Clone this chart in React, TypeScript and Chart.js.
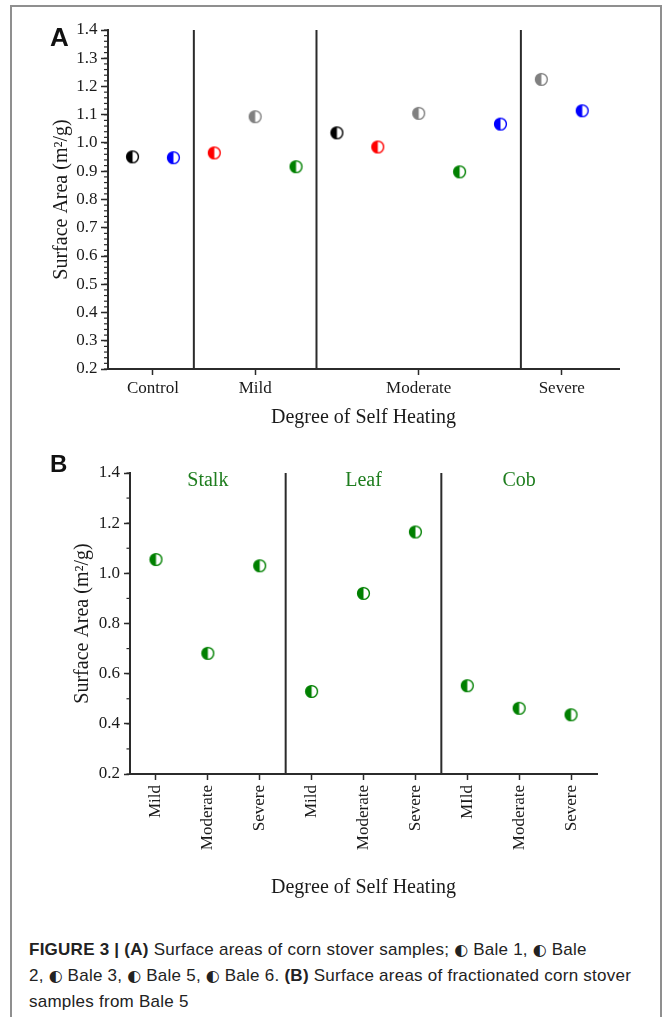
import React, { useEffect, useRef } from 'react';
import { Chart, registerables } from 'chart.js';

Chart.register(...registerables);

// ---------------- Panel A data ----------------
// One slot per sample, left to right along the x axis
const groupA = ['Control', 'Control', 'Mild', 'Mild', 'Mild', 'Moderate', 'Moderate', 'Moderate', 'Moderate', 'Moderate', 'Severe', 'Severe'];
const baleA = [1, 6, 2, 3, 5, 1, 2, 3, 5, 6, 3, 6];
const surfaceA = [0.951, 0.948, 0.965, 1.093, 0.916, 1.036, 0.986, 1.105, 0.898, 1.067, 1.225, 1.114];

const bales = [1, 2, 3, 5, 6];
const baleColors = ['#000000', '#ff0000', '#808080', '#008000', '#0000ff'];

const yMinA = 0.2;
const yMaxA = 1.4;
const yStepA = 0.1;
const yMinorA = 0.02;

// ---------------- Panel B data ----------------
const fractionB = ['Stalk', 'Stalk', 'Stalk', 'Leaf', 'Leaf', 'Leaf', 'Cob', 'Cob', 'Cob'];
const degreeB = ['Mild', 'Moderate', 'Severe', 'Mild', 'Moderate', 'Severe', 'MIld', 'Moderate', 'Severe'];
const surfaceB = [1.055, 0.681, 1.03, 0.529, 0.92, 1.165, 0.552, 0.462, 0.436];
const colorB = '#008000';
const sectionColorB = '#1e7d1e';

const yMinB = 0.2;
const yMaxB = 1.4;
const yStepB = 0.2;
const yMinorB = 0.1;

const yTitle = 'Surface Area (m\u00B2/g)';
const xTitle = 'Degree of Self Heating';

// ---------------- helpers ----------------
const SERIF = "'Liberation Serif', 'Times New Roman', serif";
const SANS = "'Liberation Sans', Arial, sans-serif";
const AXIS = '#2b2b2b';
const TEXT = '#1a1a1a';

type Group = { name: string; start: number; end: number };
function contiguousGroups(arr: string[]): Group[] {
  const out: Group[] = [];
  arr.forEach((name, i) => {
    const last = out[out.length - 1];
    if (last && last.name === name) last.end = i + 1;
    else out.push({ name, start: i + 1, end: i + 1 });
  });
  return out;
}

function halfMarker(color: string): HTMLCanvasElement {
  const c = document.createElement('canvas');
  c.width = 15;
  c.height = 15;
  const g = c.getContext('2d')!;
  const cx = 7.5, cy = 7.5, r = 5.9;
  g.beginPath();
  g.arc(cx, cy, r, 0, Math.PI * 2);
  g.fillStyle = '#ffffff';
  g.fill();
  g.beginPath();
  g.arc(cx, cy, r, Math.PI / 2, Math.PI * 1.5);
  g.closePath();
  g.fillStyle = color;
  g.fill();
  g.beginPath();
  g.arc(cx, cy, r, 0, Math.PI * 2);
  g.lineWidth = 1.4;
  g.strokeStyle = color;
  g.stroke();
  return c;
}

const decorPlugin = {
  id: 'decor',
  afterDraw(chart: any, _args: any, opts: any) {
    const { ctx, chartArea, scales } = chart;
    const x = scales.x;
    const y = scales.y;
    ctx.save();
    ctx.strokeStyle = AXIS;
    // minor ticks on y axis
    ctx.lineWidth = 1.2;
    const n = Math.round((y.max - y.min) / opts.minorStep);
    for (let i = 0; i <= n; i++) {
      const v = y.min + i * opts.minorStep;
      const py = y.getPixelForValue(v);
      ctx.beginPath();
      ctx.moveTo(chartArea.left - opts.minorLen, py);
      ctx.lineTo(chartArea.left, py);
      ctx.stroke();
    }
    // group separators
    ctx.lineWidth = 2;
    for (const s of opts.separators as number[]) {
      const px = x.getPixelForValue(s);
      ctx.beginPath();
      ctx.moveTo(px, chartArea.top);
      ctx.lineTo(px, chartArea.bottom);
      ctx.stroke();
    }
    // section labels
    if (opts.sections) {
      ctx.fillStyle = opts.sectionColor;
      ctx.font = `20px ${SERIF}`;
      ctx.textAlign = 'center';
      ctx.textBaseline = 'middle';
      for (const sec of opts.sections as { text: string; center: number }[]) {
        ctx.fillText(sec.text, x.getPixelForValue(sec.center), chartArea.top + 8);
      }
    }
    ctx.restore();
  },
};

function configA(): any {
  const groups = contiguousGroups(groupA);
  const centers = groups.map((g) => (g.start + g.end) / 2);
  const names = groups.map((g) => g.name);
  const separators = groups.slice(0, -1).map((g) => g.end + 0.5);
  const datasets = bales.map((b, bi) => ({
    label: `Bale ${b}`,
    data: surfaceA
      .map((v, i) => ({ x: i + 1, y: v, b: baleA[i] }))
      .filter((p) => p.b === b)
      .map((p) => ({ x: p.x, y: p.y })),
    pointStyle: halfMarker(baleColors[bi]),
    backgroundColor: baleColors[bi],
    borderColor: baleColors[bi],
  }));
  return {
    type: 'scatter',
    data: { datasets },
    plugins: [decorPlugin],
    options: {
      responsive: false,
      devicePixelRatio: 1,
      animation: false,
      events: [],
      layout: { padding: { left: 40, right: 45, top: 30, bottom: 10 } },
      plugins: {
        legend: { display: false },
        tooltip: { enabled: false },
        decor: { minorStep: yMinorA, minorLen: 4, separators },
      },
      scales: {
        x: {
          type: 'linear',
          min: 0.4,
          max: 12.9,
          afterBuildTicks: (scale: any) => {
            scale.ticks = centers.map((v) => ({ value: v }));
          },
          afterFit: (scale: any) => {
            scale.height = 61;
          },
          ticks: {
            autoSkip: false,
            maxRotation: 0,
            minRotation: 0,
            padding: 3,
            color: TEXT,
            font: { family: SERIF, size: 17 },
            callback: (_v: any, i: number) => names[i],
          },
          grid: { display: true, drawOnChartArea: false, drawTicks: true, tickLength: 6, tickColor: AXIS, tickWidth: 1.5 },
          border: { display: true, color: AXIS, width: 2 },
          title: { display: true, text: xTitle, color: TEXT, font: { family: SERIF, size: 20 }, padding: { top: 0, bottom: 0 } },
        },
        y: {
          type: 'linear',
          min: yMinA,
          max: yMaxA,
          afterFit: (scale: any) => {
            scale.width = 68;
          },
          ticks: {
            stepSize: yStepA,
            padding: 3.5,
            color: TEXT,
            font: { family: SERIF, size: 17 },
            callback: (v: any) => Number(v).toFixed(1),
          },
          grid: { display: true, drawOnChartArea: false, drawTicks: true, tickLength: 7, tickColor: AXIS, tickWidth: 1.5 },
          border: { display: true, color: AXIS, width: 2 },
          title: { display: true, text: yTitle, color: TEXT, font: { family: SERIF, size: 20 }, padding: { top: 10, bottom: 0 } },
        },
      },
    },
  };
}

function configB(): any {
  const groups = contiguousGroups(fractionB);
  const separators = groups.slice(0, -1).map((g) => g.end + 0.5);
  const sections = groups.map((g) => ({ text: g.name, center: (g.start + g.end) / 2 }));
  const marker = halfMarker(colorB);
  return {
    type: 'scatter',
    data: {
      datasets: [
        {
          label: 'Bale 5',
          data: surfaceB.map((v, i) => ({ x: i + 1, y: v })),
          pointStyle: marker,
          backgroundColor: colorB,
          borderColor: colorB,
        },
      ],
    },
    plugins: [decorPlugin],
    options: {
      responsive: false,
      devicePixelRatio: 1,
      animation: false,
      events: [],
      layout: { padding: { left: 60, right: 67, top: 33, bottom: 20 } },
      plugins: {
        legend: { display: false },
        tooltip: { enabled: false },
        decor: { minorStep: yMinorB, minorLen: 3.5, separators, sections, sectionColor: sectionColorB },
      },
      scales: {
        x: {
          type: 'linear',
          min: 0.5,
          max: 9.5,
          afterBuildTicks: (scale: any) => {
            scale.ticks = degreeB.map((_d, i) => ({ value: i + 1 }));
          },
          afterFit: (scale: any) => {
            scale.height = 126;
          },
          ticks: {
            autoSkip: false,
            maxRotation: 90,
            minRotation: 90,
            padding: 5,
            color: TEXT,
            font: { family: SERIF, size: 17 },
            callback: (_v: any, i: number) => degreeB[i],
          },
          grid: { display: true, drawOnChartArea: false, drawTicks: true, tickLength: 6, tickColor: AXIS, tickWidth: 1.5 },
          border: { display: true, color: AXIS, width: 2 },
          title: { display: true, text: xTitle, color: TEXT, font: { family: SERIF, size: 20 }, padding: { top: 0, bottom: 0 } },
        },
        y: {
          type: 'linear',
          min: yMinB,
          max: yMaxB,
          afterFit: (scale: any) => {
            scale.width = 70;
          },
          ticks: {
            stepSize: yStepB,
            padding: 4,
            color: TEXT,
            font: { family: SERIF, size: 17 },
            callback: (v: any) => Number(v).toFixed(1),
          },
          grid: { display: true, drawOnChartArea: false, drawTicks: true, tickLength: 6, tickColor: AXIS, tickWidth: 1.5 },
          border: { display: true, color: AXIS, width: 2 },
          title: { display: true, text: yTitle, color: TEXT, font: { family: SERIF, size: 20 }, padding: { top: 11, bottom: 0 } },
        },
      },
    },
  };
}

const Half = () => (
  <span style={{ fontFamily: "'DejaVu Sans', sans-serif", fontSize: 16, letterSpacing: 0 }}>{'\u25D0'}</span>
);

export default function App() {
  const refA = useRef<HTMLCanvasElement>(null);
  const refB = useRef<HTMLCanvasElement>(null);

  useEffect(() => {
    const a = new Chart(refA.current!, configA());
    const b = new Chart(refB.current!, configB());
    return () => {
      a.destroy();
      b.destroy();
    };
  }, []);

  return (
    <div style={{ position: 'absolute', left: 0, top: 0, width: 664, height: 1017, overflow: 'hidden', background: '#ffffff' }}>
      <div
        style={{
          position: 'absolute',
          left: 10,
          top: 5,
          width: 652,
          height: 1100,
          border: '2px solid #8f8f8f',
          boxSizing: 'border-box',
        }}
      />
      <canvas
        ref={refA}
        width={664}
        height={440}
        style={{ position: 'absolute', left: 0, top: 0, width: 664, height: 440 }}
      />
      <canvas
        ref={refB}
        width={664}
        height={480}
        style={{ position: 'absolute', left: 0, top: 440, width: 664, height: 480 }}
      />
      <div
        style={{
          position: 'absolute',
          left: 50,
          top: 23.5,
          fontFamily: SANS,
          fontWeight: 'bold',
          fontSize: 26,
          lineHeight: '26px',
          color: '#111',
        }}
      >
        A
      </div>
      <div
        style={{
          position: 'absolute',
          left: 50,
          top: 452,
          fontFamily: SANS,
          fontWeight: 'bold',
          fontSize: 24,
          lineHeight: '24px',
          color: '#111',
        }}
      >
        B
      </div>
      <div
        style={{
          position: 'absolute',
          left: 29,
          top: 937,
          fontFamily: SANS,
          fontSize: 17,
          lineHeight: '26px',
          letterSpacing: '0.25px',
          color: '#222',
          whiteSpace: 'nowrap',
        }}
      >
        <b>FIGURE 3 | (A)</b> Surface areas of corn stover samples; <Half /> Bale 1, <Half /> Bale
        <br />
        2, <Half /> Bale 3, <Half /> Bale 5, <Half /> Bale 6. <b>(B)</b> Surface areas of fractionated corn stover
        <br />
        samples from Bale 5
      </div>
    </div>
  );
}
